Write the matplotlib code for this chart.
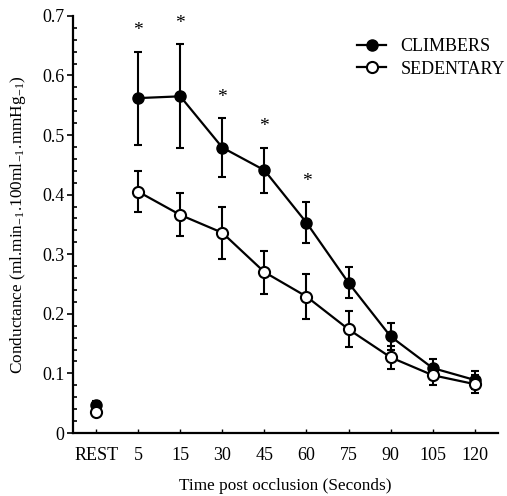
import matplotlib.pyplot as plt
from matplotlib.lines import Line2D

plt.rcParams["font.family"] = ["Liberation Serif", "DejaVu Serif"]
plt.rcParams["mathtext.fontset"] = "stix"

categories = ["REST", "5", "15", "30", "45", "60", "75", "90", "105", "120"]
climbers = [0.047, 0.562, 0.565, 0.479, 0.441, 0.353, 0.252, 0.162, 0.109, 0.089]
climbers_err = [0.007, 0.078, 0.087, 0.049, 0.038, 0.034, 0.026, 0.023, 0.015, 0.015]
sedentary = [0.036, 0.405, 0.366, 0.336, 0.270, 0.229, 0.174, 0.127, 0.097, 0.082]
sedentary_err = [0.005, 0.034, 0.036, 0.044, 0.036, 0.037, 0.030, 0.019, 0.016, 0.015]
significant = [False, True, True, True, True, True, False, False, False, False]
yticks = [0, 0.1, 0.2, 0.3, 0.4, 0.5, 0.6, 0.7]
ytick_labels = ["0", "0.1", "0.2", "0.3", "0.4", "0.5", "0.6", "0.7"]

x = list(range(len(categories)))

fig = plt.figure(figsize=(5.07, 4.96), dpi=100)
ax = fig.add_axes([0.144, 0.127, 0.838, 0.841])

eb = dict(color="black", ms=8, capsize=3, elinewidth=1.5, capthick=1.5)

# REST point is drawn on its own, the time course is joined by a line
ax.errorbar(x[:1], climbers[:1], yerr=climbers_err[:1], fmt="o", **eb)
ax.errorbar(x[:1], sedentary[:1], yerr=sedentary_err[:1], fmt="o",
            mfc="white", mew=1.5, **eb)
ax.errorbar(x[1:], climbers[1:], yerr=climbers_err[1:], fmt="-o", lw=1.6, **eb)
ax.errorbar(x[1:], sedentary[1:], yerr=sedentary_err[1:], fmt="-o", lw=1.6,
            mfc="white", mew=1.5, **eb)

for xi, y, e, s in zip(x, climbers, climbers_err, significant):
    if s:
        ax.annotate("*", (xi, y + e), xytext=(0, 15), textcoords="offset points",
                    ha="center", va="center", fontsize=14)

ax.set_xlim(-0.55, 9.55)
ax.set_ylim(0, 0.7)
ax.set_xticks(x)
ax.set_xticklabels(categories)
ax.set_yticks(yticks)
ax.set_yticklabels(ytick_labels)
ax.set_yticks([i * 0.02 for i in range(36)], minor=True)
ax.tick_params(axis="x", direction="in", length=3, width=1, labelsize=13, pad=10)
ax.tick_params(axis="y", which="major", direction="out", length=4, width=1.2,
               labelsize=13, pad=2)
ax.tick_params(axis="y", which="minor", direction="in", length=3, width=1.2)

for side in ["top", "right"]:
    ax.spines[side].set_visible(False)
for side in ["left", "bottom"]:
    ax.spines[side].set_linewidth(1.6)

ax.set_xlabel("Time post occlusion (Seconds)", fontsize=12.4, labelpad=10)
ax.set_ylabel("Conductance (ml.min$_{\\mathregular{-1}}$.100ml$_{\\mathregular{-1}}$"
              ".mmHg$_{\\mathregular{-1}}$)", fontsize=12.4, labelpad=10)

handles = [
    Line2D([], [], color="black", lw=1.6, marker="o", ms=8),
    Line2D([], [], color="black", lw=1.6, marker="o", ms=8, mfc="white", mew=1.5),
]
ax.legend(handles, ["CLIMBERS", "SEDENTARY"], loc="upper right",
          bbox_to_anchor=(1.055, 0.985), frameon=False, fontsize=13,
          handlelength=1.6, handletextpad=0.8, labelspacing=0.3)

fig.savefig("out.png", dpi=100)
